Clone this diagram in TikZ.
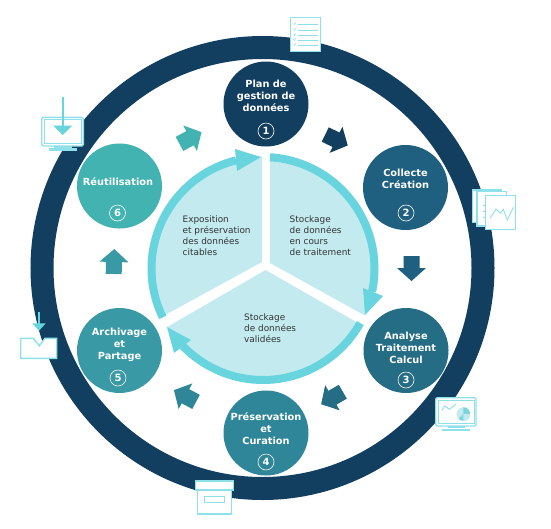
\documentclass[tikz,border=0pt]{standalone}
\usepackage{fontspec}
\setmainfont{DejaVu Sans}
\definecolor{cA}{HTML}{123F5F}
\definecolor{cB}{HTML}{1F5F7F}
\definecolor{cC}{HTML}{256C85}
\definecolor{cD}{HTML}{2F8698}
\definecolor{cE}{HTML}{399AA5}
\definecolor{cF}{HTML}{42B3B0}
\definecolor{pale}{HTML}{C3EBEF}
\definecolor{arcc}{HTML}{68D4DE}
\definecolor{icon}{HTML}{8FE1E9}
\definecolor{txt}{HTML}{333333}
\newcommand{\blockarrow}[4]{\fill[#4,shift={(#1,#2)},rotate=#3] (-12.5,-8) -- (-0.5,-8) -- (-0.5,-14.5) -- (12.5,0) -- (-0.5,14.5) -- (-0.5,8) -- (-12.5,8) -- cycle;}
\tikzset{
  phase/.style={circle,minimum size=85pt,inner sep=0pt,fill=#1},
  phasetext/.style={text=white,font=\fontsize{9.8}{12}\selectfont\bfseries,align=center,inner sep=0pt},
  num/.style={circle,draw=white,line width=0.6pt,minimum size=16pt,inner sep=0pt,text=white,font=\fontsize{10}{10}\selectfont\bfseries},
  body/.style={text=txt,font=\fontsize{8.9}{11}\selectfont,align=left,anchor=west,inner sep=0pt},
  sector/.style={fill=pale},
  ringarc/.style={draw=arcc,line width=8pt},
  tip/.style={fill=arcc},
  ico/.style={draw=icon,line width=1.4pt,fill=white},
  icol/.style={draw=icon,line width=0.9pt},
}
\begin{document}
\begin{tikzpicture}[x=1pt,y=1pt,yscale=-1]
\useasboundingbox (0,0) rectangle (551,528);
\fill[white] (0,0) rectangle (551,528);
% outer ring
\draw[cA,line width=23pt] (262.5,268) circle (220.5);
% sectors
\begin{scope}
\clip (263,268.5) circle (112);
\fill[sector] (270,263) -- (270,140) -- (400,140) -- (400,335) -- (364,315) -- cycle;
\fill[sector] (265.5,270) -- (372,331) -- (372,400) -- (150,400) -- (150,337) -- cycle;
\fill[sector] (262,262) -- (262,140) -- (140,140) -- (140,330) -- (165,315) -- cycle;
\end{scope}
% arcs
\draw[ringarc] (263,268.5) ++(-86.4:111.5) arc (-86.4:12:111.5);
\fill[tip] (365,315) -- (383,296) -- (363,288) -- cycle;
\draw[ringarc] (263,268.5) ++(29.3:111.5) arc (29.3:136:111.5);
\fill[tip] (167,327) -- (191,340) -- (174,353) -- cycle;
\draw[ringarc] (263,268.5) ++(154:111.5) arc (154:256:111.5);
\fill[tip] (261,157) -- (235,149) -- (237,171) -- cycle;
% block arrows
\blockarrow{336.5}{140}{26}{cA}
\blockarrow{411.5}{268.5}{90}{cB}
\blockarrow{332}{398}{150}{cC}
\blockarrow{185}{396}{208}{cD}
\blockarrow{114}{261.5}{-88.6}{cE}
\blockarrow{190.5}{138}{-28}{cF}
% phases
\node[phase=cA] (p1) at (266,104) {};
\node[phase=cB] (p2) at (405.5,187.5) {};
\node[phase=cC] (p3) at (406,350.5) {};
\node[phase=cD] (p4) at (266,433) {};
\node[phase=cE] (p5) at (119.5,350.5) {};
\node[phase=cF] (p6) at (119.5,186) {};
\node[phasetext] (t1) at (266,96) {Plan de\\gestion de\\données};
\node[phasetext] (t2) at (405.5,179) {Collecte\\Création};
\node[phasetext] (t3) at (406,348) {Analyse\\Traitement\\Calcul};
\node[phasetext] (t4) at (266,429) {Préservation\\et\\Curation};
\node[phasetext] (t5) at (119.5,345) {Archivage\\et\\Partage};
\node[phasetext] (t6) at (118,182) {Réutilisation};
\node[num] (n1) at (266,131) {1};
\node[num] (n2) at (406,213) {2};
\node[num] (n3) at (406,380) {3};
\node[num] (n4) at (266,462) {4};
\node[num] (n5) at (118,378) {5};
\node[num] (n6) at (117.5,213) {6};
% sector labels
\node[body] (s1) at (289.5,235.5) {Stockage\\de données\\en cours\\de traitement};
\node[body] (s2) at (244,328) {Stockage\\de données\\validées};
\node[body] (s3) at (182.5,235.5) {Exposition\\et préservation\\des données\\citables};
% checklist icon
\draw[ico] (290.7,17.7) rectangle (320.7,51.7);
\foreach \yy in {24,30,35,40,45}{
  \draw[icol] (297.7,\yy) -- (317.7,\yy);
  \draw[icol,line width=0.5pt] (293.5,\yy-1) -- (294.5,\yy+0.5) -- (296,\yy-2);
}
% documents icon
\draw[ico] (472.3,190) rectangle (501.7,222.7);
\draw[ico] (477,191.7) rectangle (506.3,226);
\draw[ico] (485.7,195.7) rectangle (515.3,229.3);
\foreach \yy in {205,211,217}{\draw[icol,line width=0.5pt] (482.5,\yy) -- (485,\yy);}
\draw[icol] (490,218.5) -- (496,209) -- (500.7,213.3) -- (503.3,209.3) -- (507.3,220) -- (513.3,207.3);
% download monitor icon
\draw[ico,rounded corners=1.5pt] (41.7,117.3) rectangle (83.3,146);
\draw[icol,line width=1pt] (44.3,119.5) rectangle (81.3,143.3);
\fill[icon] (54,146) rectangle (71.5,148.2);
\fill[icon] (49,148.3) rectangle (76.7,151);
\draw[arcc,line width=2pt] (62.5,96.7) -- (62.5,127);
\fill[arcc] (53.3,125.7) -- (72.3,125.7) -- (62.7,135) -- cycle;
% folder icon
\draw[ico] (20.7,338.3) -- (33.3,338.3) -- (39.3,345.7) -- (45,338.3) -- (56.7,338.3) -- (56.7,358.3) -- (20.7,358.3) -- cycle;
\draw[arcc,line width=1.6pt] (38.7,311.7) -- (38.7,324);
\fill[arcc] (32.3,323.3) -- (45.7,323.3) -- (39,330.7) -- cycle;
% analysis monitor icon
\draw[ico,rounded corners=1.5pt] (435.7,397.7) rectangle (476,426);
\draw[icol,line width=1pt] (438.3,400) rectangle (474,423.3);
\fill[icon] (448,426) rectangle (465,428);
\fill[icon] (442.3,429.3) rectangle (470,431.3);
\fill[pale] (463.3,414) circle (6.8);
\fill[icon!75!cF] (463.3,414) -- (463.3,407.2) arc (-90:135:6.8) -- cycle;
\fill[pale] (463.3,414) -- (463.3,420.8) arc (90:0:6.8) -- cycle;
\draw[icol] (441.7,410.7) -- (445,405.7) -- (449.3,409.3) -- (456,404.3);
% box icon
\draw[ico] (197.3,490) rectangle (231.7,514);
\draw[ico] (195.7,481) rectangle (233.3,490);
\draw[icol,line width=0.9pt] (204.7,496.7) rectangle (224,502);
\end{tikzpicture}
\end{document}
